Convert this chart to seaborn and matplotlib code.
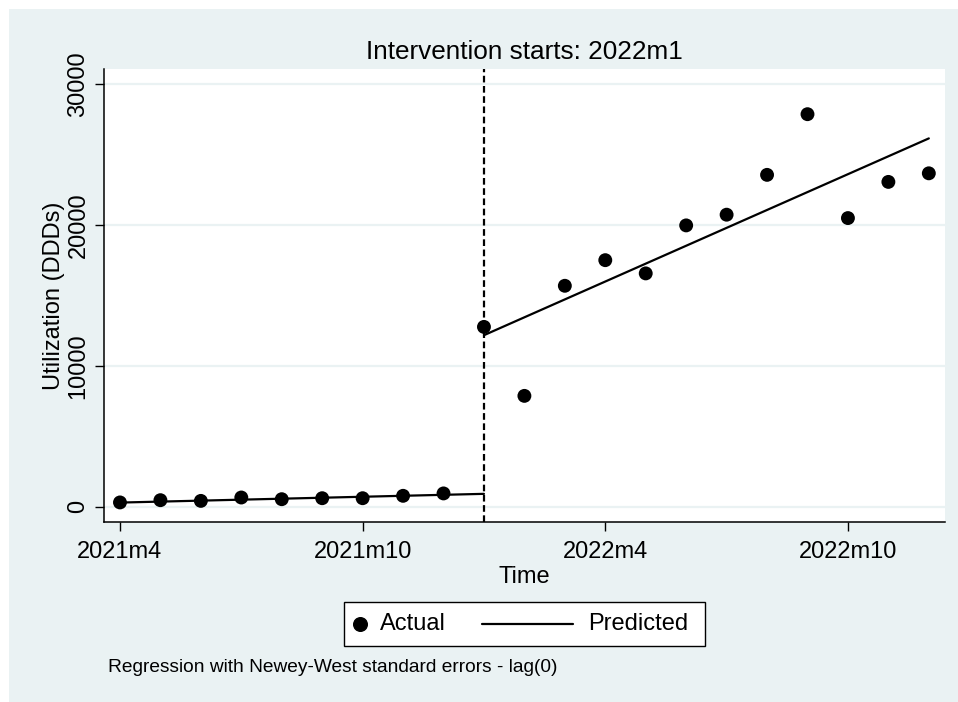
import matplotlib
matplotlib.use("Agg")
import matplotlib.pyplot as plt
from matplotlib.patches import Rectangle
from matplotlib.lines import Line2D
import seaborn as sns
import pandas as pd

# Monthly utilization, 2021m4 .. 2022m12 (month index 0 .. 20)
months = list(range(21))
actual = [310, 470, 420, 660, 540, 610, 610, 780, 950,
          12780, 7880, 15700, 17520, 16580, 19990, 20750,
          23580, 27890, 20510, 23080, 23690]

# Fitted segments (pre- and post-intervention), start/end points
pre_x = [0, 9]
pre_pred = [300, 920]
post_x = [9, 20]
post_pred = [12190, 26170]

intervention = 9
tick_pos = [0, 6, 12, 18]
tick_labels = ["2021m4", "2021m10", "2022m4", "2022m10"]
y_ticks = [0, 10000, 20000, 30000]

BG = "#EAF2F3"
FONT = ["Liberation Sans", "DejaVu Sans"]
W, H = 958, 702


def fx(px):
    return px / W


def fy(py):
    return 1 - py / H


sns.set_theme(style="white")
plt.rcParams["font.family"] = FONT

fig = plt.figure(figsize=(W / 100, H / 100), dpi=100, facecolor=BG)
# thin white margin along the top and left edges
fig.add_artist(Rectangle((0, fy(9)), 1, 9 / H, transform=fig.transFigure,
                         facecolor="white", edgecolor="none", zorder=-5))
fig.add_artist(Rectangle((0, 0), fx(9), 1, transform=fig.transFigure,
                         facecolor="white", edgecolor="none", zorder=-5))

ax = fig.add_axes([fx(104), fy(522), (945 - 104) / W, (522 - 69) / H])
ax.set_facecolor("white")

df_act = pd.DataFrame({"month": months, "value": actual})
df_pre = pd.DataFrame({"month": pre_x, "value": pre_pred})
df_post = pd.DataFrame({"month": post_x, "value": post_pred})

for yv in y_ticks:
    ax.axhline(yv, color=BG, lw=1.6, zorder=0)

sns.lineplot(data=df_pre, x="month", y="value", ax=ax, color="black", lw=1.6, zorder=3)
sns.lineplot(data=df_post, x="month", y="value", ax=ax, color="black", lw=1.6, zorder=3)
sns.scatterplot(data=df_act, x="month", y="value", ax=ax, color="black", s=100,
                edgecolor="none", zorder=4)
ax.axvline(intervention, color="black", lw=1.6, ls=(0, (3, 1.6)), zorder=2)

ax.set_xlim(-0.395, 20.4)
ax.set_ylim(-1080, 31100)
ax.set_xticks(tick_pos)
ax.set_xticklabels(tick_labels)
ax.set_yticks(y_ticks)
ax.set_yticklabels([str(v) for v in y_ticks], rotation=90, va="center")

ax.tick_params(axis="both", which="major", direction="out", length=6.5, width=1,
               color="black", labelsize=17, labelcolor="black")
ax.tick_params(axis="x", bottom=True, pad=7)
ax.tick_params(axis="y", left=True, pad=4)

for s in ["top", "right"]:
    ax.spines[s].set_visible(False)
for s in ["left", "bottom"]:
    ax.spines[s].set_visible(True)
    ax.spines[s].set_color("black")
    ax.spines[s].set_linewidth(1.1)

ax.set_xlabel("Time", fontsize=17, color="black", labelpad=2)
ax.set_ylabel("Utilization (DDDs)", fontsize=17, color="black", labelpad=2)
ax.set_title("Intervention starts: 2022m1", fontsize=18.8, color="black", pad=7)

# legend box below the plot
ly = 624
fig.add_artist(Rectangle((fx(344), fy(646)), (705 - 344) / W, (646 - 602) / H,
                         transform=fig.transFigure, facecolor="white",
                         edgecolor="black", lw=1.0))
fig.add_artist(Line2D([fx(360)], [fy(ly)], transform=fig.transFigure, marker="o",
                      ls="none", color="black", markersize=9.8))
fig.text(fx(380), fy(ly), "Actual", fontsize=17, ha="left", va="center", color="black")
fig.add_artist(Line2D([fx(482), fx(573)], [fy(ly), fy(ly)], transform=fig.transFigure,
                      color="black", lw=1.6))
fig.text(fx(588), fy(ly), "Predicted", fontsize=17, ha="left", va="center", color="black")

fig.text(fx(108), fy(668), "Regression with Newey-West standard errors - lag(0)",
         fontsize=13.8, color="black", ha="left", va="center")

fig.savefig("out.png", dpi=100, facecolor=BG)
